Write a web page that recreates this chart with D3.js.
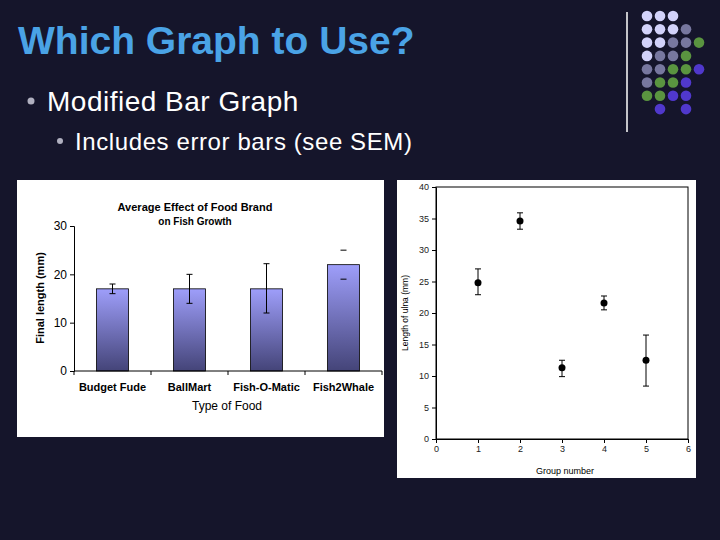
<!DOCTYPE html>
<html>
<head>
<meta charset="UTF-8">
<script src="https://d3js.org/d3.v7.min.js"></script>
<style>
  body { margin: 0; background: #15152b; }
  text { font-family: Arial, "Liberation Sans", sans-serif; }
</style>
</head>
<body>
<div id="slide"></div>
<script>
// bar chart data
const foods = ["Budget Fude", "BallMart", "Fish-O-Matic", "Fish2Whale"];
const foodMeans = [17, 17, 17, 22];
const foodLow = [16, 14, 12, 19];
const foodHigh = [18, 20, 22.2, 25];
const barTicks = [0, 10, 20, 30];

// scatter data
const groups = [1, 2, 3, 4, 5];
const ulnaMeans = [24.8, 34.6, 11.3, 21.6, 12.5];
const ulnaLow = [22.9, 33.3, 9.9, 20.5, 8.4];
const ulnaHigh = [27, 35.9, 12.5, 22.7, 16.5];

// decorative dot grid (0 none, 1 light, 2 grey, 3 green, 4 blue)
const dotRows = [
  [1, 1, 1, 0, 0],
  [1, 1, 1, 2, 0],
  [1, 1, 2, 2, 3],
  [1, 2, 2, 3, 0],
  [2, 2, 3, 3, 4],
  [2, 3, 3, 4, 0],
  [3, 3, 4, 4, 0],
  [0, 4, 0, 4, 0]
];
const dotColors = [null, "#d2d2fa", "#77779f", "#5a9440", "#5038cc"];

const W = 720, H = 540;
const svg = d3.select("#slide").append("svg").attr("width", W).attr("height", H);
svg.append("rect").attr("width", W).attr("height", H).attr("fill", "#15152b");

// header
svg.append("text").attr("x", 18).attr("y", 54).attr("fill", "#4aa3e6")
  .attr("font-size", 39).attr("font-weight", "bold").text("Which Graph to Use?");
svg.append("circle").attr("cx", 31).attr("cy", 101).attr("r", 3.5).attr("fill", "#b0b0c0");
svg.append("text").attr("x", 47).attr("y", 111).attr("fill", "white")
  .attr("font-size", 28).attr("letter-spacing", 0.5).text("Modified Bar Graph");
svg.append("circle").attr("cx", 60).attr("cy", 141).attr("r", 3).attr("fill", "#b0b0c0");
svg.append("text").attr("x", 75).attr("y", 150).attr("fill", "white")
  .attr("font-size", 24).attr("letter-spacing", 0.6).text("Includes error bars (see SEM)");

svg.append("line").attr("x1", 627).attr("x2", 627).attr("y1", 12).attr("y2", 132)
  .attr("stroke", "white").attr("stroke-width", 1.5);
dotRows.forEach((row, r) => row.forEach((c, i) => {
  if (!c) return;
  svg.append("circle").attr("cx", 647 + i * 13).attr("cy", 16 + r * 13.3)
    .attr("r", 5.3).attr("fill", dotColors[c]);
}));

// ---- bar chart ----
svg.append("rect").attr("x", 17).attr("y", 180).attr("width", 367).attr("height", 257).attr("fill", "white");
const grad = svg.append("defs").append("linearGradient").attr("id", "barg")
  .attr("x1", 0).attr("x2", 0).attr("y1", 0).attr("y2", 1);
grad.append("stop").attr("offset", "0%").attr("stop-color", "#9e9efa");
grad.append("stop").attr("offset", "100%").attr("stop-color", "#444478");

const bx = d3.scaleBand().domain(foods).range([74, 382]);
const by = d3.scaleLinear().domain([0, 30]).range([371, 226]);
const bw = 32;

svg.append("g").selectAll("rect").data(foods).join("rect")
  .attr("x", d => bx(d) + bx.bandwidth() / 2 - bw / 2)
  .attr("y", (d, i) => by(foodMeans[i]))
  .attr("width", bw).attr("height", (d, i) => by(0) - by(foodMeans[i]))
  .attr("fill", "url(#barg)").attr("stroke", "black").attr("stroke-width", 0.8);

const eb = svg.append("g").attr("stroke", "black").attr("stroke-width", 1);
foods.forEach((f, i) => {
  const cx = bx(f) + bx.bandwidth() / 2;
  if (i < 3) eb.append("line").attr("x1", cx).attr("x2", cx).attr("y1", by(foodLow[i])).attr("y2", by(foodHigh[i]));
  [foodLow[i], foodHigh[i]].forEach(v =>
    eb.append("line").attr("x1", cx - 3).attr("x2", cx + 3).attr("y1", by(v)).attr("y2", by(v)));
});

const bAxisY = svg.append("g").attr("transform", "translate(74,0)")
  .call(d3.axisLeft(by).tickValues(barTicks).tickSize(4).tickFormat(d3.format("d")));
bAxisY.selectAll("text").attr("font-size", 12).attr("fill", "black");
bAxisY.select(".domain").attr("stroke", "black");
const bAxisX = svg.append("g").attr("transform", "translate(0,371)")
  .call(d3.axisBottom(bx).tickSize(0).tickPadding(12));
bAxisX.select(".domain").remove();
bAxisX.selectAll("text").attr("font-size", 11).attr("font-weight", "bold").attr("fill", "black");
svg.append("line").attr("x1", 74).attr("x2", 382).attr("y1", 371).attr("y2", 371).attr("stroke", "black");
svg.append("g").selectAll("line").data(d3.range(foods.length + 1)).join("line")
  .attr("x1", i => 74 + i * bx.step()).attr("x2", i => 74 + i * bx.step())
  .attr("y1", 371).attr("y2", 375).attr("stroke", "black");

svg.append("text").attr("x", 195).attr("y", 211).attr("text-anchor", "middle")
  .attr("font-size", 11).attr("font-weight", "bold").text("Average Effect of Food Brand");
svg.append("text").attr("x", 195).attr("y", 225).attr("text-anchor", "middle")
  .attr("font-size", 10).attr("font-weight", "bold").text("on Fish Growth");
svg.append("text").attr("x", 227).attr("y", 410).attr("text-anchor", "middle")
  .attr("font-size", 12).text("Type of Food");
svg.append("text").attr("transform", "translate(44,298) rotate(-90)").attr("text-anchor", "middle")
  .attr("font-size", 11).attr("font-weight", "bold").text("Final length (mm)");

// ---- scatter ----
svg.append("rect").attr("x", 397).attr("y", 180).attr("width", 299).attr("height", 298).attr("fill", "white");
const sx = d3.scaleLinear().domain([0, 6]).range([436, 688]);
const sy = d3.scaleLinear().domain([0, 40]).range([439, 187]);
svg.append("rect").attr("x", 436).attr("y", 187).attr("width", 252).attr("height", 252)
  .attr("fill", "none").attr("stroke", "black").attr("stroke-width", 1);
const sAxX = svg.append("g").attr("transform", "translate(0,439)")
  .call(d3.axisBottom(sx).ticks(6).tickSize(4).tickSizeOuter(0));
const sAxY = svg.append("g").attr("transform", "translate(436,0)")
  .call(d3.axisLeft(sy).ticks(8).tickSize(4).tickSizeOuter(0));
[sAxX, sAxY].forEach(g => g.selectAll("text").attr("font-size", 9).attr("fill", "#222"));

const se = svg.append("g").attr("stroke", "black").attr("stroke-width", 1);
groups.forEach((g, i) => {
  const cx = sx(g);
  se.append("line").attr("x1", cx).attr("x2", cx).attr("y1", sy(ulnaLow[i])).attr("y2", sy(ulnaHigh[i]));
  [ulnaLow[i], ulnaHigh[i]].forEach(v =>
    se.append("line").attr("x1", cx - 3).attr("x2", cx + 3).attr("y1", sy(v)).attr("y2", sy(v)));
});
svg.append("g").selectAll("circle").data(groups).join("circle")
  .attr("cx", d => sx(d)).attr("cy", (d, i) => sy(ulnaMeans[i])).attr("r", 3.5).attr("fill", "black");

svg.append("text").attr("x", 565).attr("y", 474).attr("text-anchor", "middle")
  .attr("font-size", 9).text("Group number");
svg.append("text").attr("transform", "translate(408,313) rotate(-90)").attr("text-anchor", "middle")
  .attr("font-size", 8.5).text("Length of ulna (mm)");
</script>
</body>
</html>
